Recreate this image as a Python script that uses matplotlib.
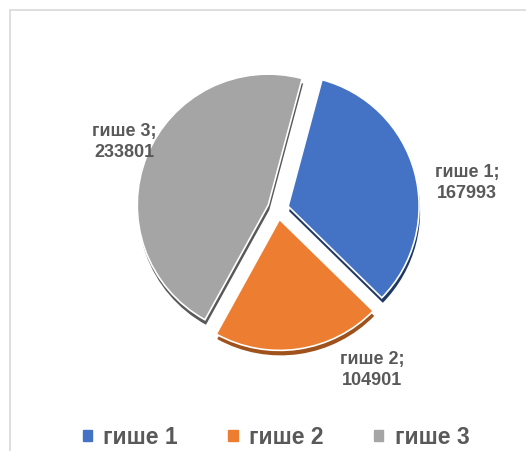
import matplotlib.pyplot as plt
import matplotlib.patches as mpatches

# datos del gráfico
labels = ["гише 1", "гише 2", "гише 3"]
values = [167993, 104901, 233801]
colors = ["#4472C4", "#ED7D31", "#A5A5A5"]
shadow_colors = ["#1F3864", "#A0521C", "#595959"]

plt.rcParams["font.family"] = ["Liberation Sans", "DejaVu Sans"]

W, H = 526, 452
fig = plt.figure(figsize=(W / 100, H / 100), dpi=100)
ax = fig.add_axes([0, 0, 1, 1])

# marco gris claro
fig.patches.append(mpatches.Rectangle((10 / W, -0.1), 1.2, (H - 11) / H + 0.1,
                                      transform=fig.transFigure, fill=False,
                                      edgecolor="#D9D9D9", linewidth=1.2))

cx, cy, r = 278, H - 210, 131
explode = [10.5, 10.5, 10.5]  # en unidades de datos (pixeles)

# "profundidad" 3D: pie desplazado hacia abajo en colores oscuros
ax.pie(values, colors=shadow_colors, startangle=75, counterclock=False,
       explode=explode, center=(cx + 1, cy - 5), radius=r, frame=True,
       wedgeprops=dict(linewidth=0))
ax.pie(values, colors=colors, startangle=75, counterclock=False,
       explode=explode, center=(cx, cy), radius=r, frame=True,
       wedgeprops=dict(edgecolor="white", linewidth=1.2))
ax.set_xlim(0, W)
ax.set_ylim(0, H)
ax.set_aspect("equal")
ax.axis("off")

# etiquetas de datos
label_pos = [(467, 183), (372, 370), (124, 142)]
for lab, val, (x, y) in zip(labels, values, label_pos):
    ax.text(x, H - y, f"{lab};\n{val}", ha="center", va="center",
            fontsize=13, fontweight="bold", color="#595959", linespacing=1.25)

handles = [mpatches.Patch(color=c, label=l) for c, l in zip(colors, labels)]
leg = fig.legend(handles=handles, loc="center", bbox_to_anchor=(276 / W, 1 - 438 / H),
                 ncol=3, frameon=False, handlelength=0.4, handleheight=0.4,
                 handletextpad=0.5, columnspacing=2.2,
                 prop=dict(size=16.5, weight="bold"))
for t in leg.get_texts():
    t.set_color("#595959")

fig.savefig("out.png", dpi=100)
